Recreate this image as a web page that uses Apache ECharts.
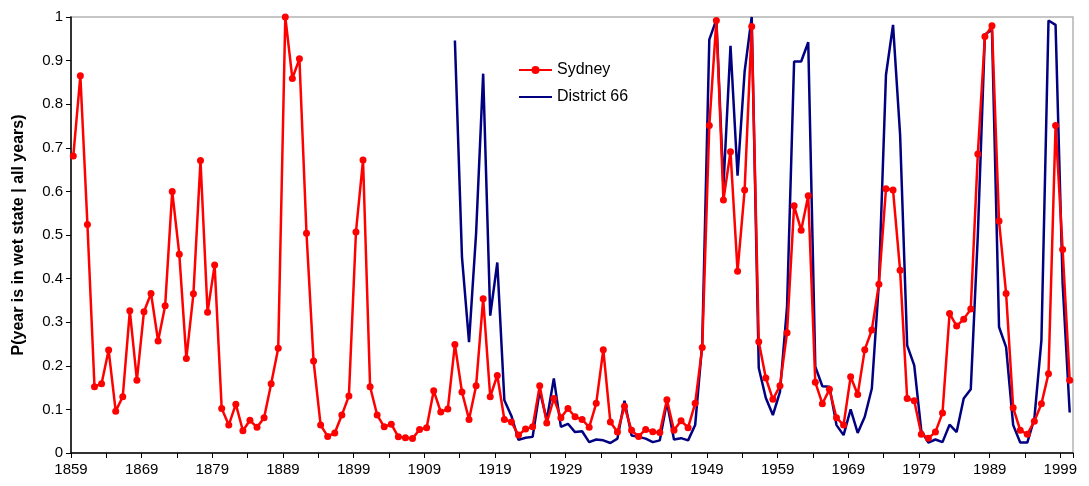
<!DOCTYPE html>
<html>
<head>
<meta charset="utf-8">
<style>
  html, body { margin: 0; padding: 0; background: #ffffff; }
  #chart { width: 1089px; height: 486px; }
</style>
<script src="https://cdn.jsdelivr.net/npm/echarts@6/dist/echarts.min.js"></script>
</head>
<body>
<div id="chart"></div>
<script>
// Probability that each year is in the wet state, Sydney 1859-2000 and District 66 1913-2000
const sydneyStartYear = 1859;
const sydneyValues = [
  0.681, 0.865, 0.524, 0.152, 0.159, 0.236, 0.096, 0.129, 0.326, 0.167,
  0.324, 0.366, 0.257, 0.338, 0.600, 0.456, 0.217, 0.365, 0.671, 0.323,
  0.431, 0.102, 0.064, 0.112, 0.051, 0.075, 0.059, 0.081, 0.159, 0.240,
  1.000, 0.859, 0.904, 0.504, 0.211, 0.064, 0.038, 0.046, 0.087, 0.131,
  0.507, 0.672, 0.152, 0.087, 0.060, 0.066, 0.037, 0.035, 0.033, 0.054,
  0.058, 0.143, 0.094, 0.101, 0.249, 0.140, 0.077, 0.154, 0.354, 0.129,
  0.178, 0.077, 0.071, 0.041, 0.055, 0.060, 0.154, 0.069, 0.125, 0.081,
  0.102, 0.083, 0.077, 0.059, 0.114, 0.237, 0.071, 0.048, 0.107, 0.052,
  0.038, 0.054, 0.049, 0.047, 0.122, 0.052, 0.074, 0.058, 0.114, 0.242,
  0.751, 0.992, 0.580, 0.691, 0.417, 0.603, 0.978, 0.255, 0.172, 0.123,
  0.154, 0.276, 0.567, 0.511, 0.590, 0.162, 0.113, 0.146, 0.081, 0.064,
  0.175, 0.134, 0.237, 0.282, 0.387, 0.606, 0.603, 0.419, 0.125, 0.120,
  0.043, 0.034, 0.048, 0.092, 0.320, 0.291, 0.307, 0.330, 0.686, 0.955,
  0.980, 0.532, 0.366, 0.104, 0.052, 0.043, 0.073, 0.113, 0.182, 0.751,
  0.467, 0.167
];

const districtStartYear = 1913;
const districtValues = [
  0.946, 0.450, 0.254, 0.504, 0.870, 0.315, 0.437, 0.121, 0.085, 0.030,
  0.035, 0.037, 0.143, 0.076, 0.171, 0.060, 0.067, 0.048, 0.050, 0.025,
  0.031, 0.029, 0.023, 0.033, 0.120, 0.040, 0.037, 0.033, 0.025, 0.029,
  0.117, 0.031, 0.034, 0.029, 0.064, 0.250, 0.948, 0.994, 0.611, 0.934,
  0.636, 0.875, 1.000, 0.195, 0.126, 0.087, 0.140, 0.335, 0.898, 0.898,
  0.942, 0.198, 0.153, 0.152, 0.064, 0.041, 0.100, 0.046, 0.083, 0.148,
  0.390, 0.867, 0.982, 0.730, 0.247, 0.201, 0.051, 0.024, 0.031, 0.025,
  0.065, 0.048, 0.125, 0.146, 0.500, 0.960, 0.971, 0.289, 0.243, 0.064,
  0.024, 0.024, 0.079, 0.259, 0.992, 0.982, 0.389, 0.093
];

const seriesNames = ['Sydney', 'District 66'];
const yAxisTitle = 'P(year is in wet state | all years)';

// Year axis: a small margin either side of the first and last year
const xMin = 1858.675;
const xMax = 2000.467;

const toPairs = (start, values) => values.map((v, i) => [start + i, v]);

const fontFamily = '"Liberation Sans", Arial, sans-serif';
const chart = echarts.init(document.getElementById('chart'), null, { renderer: 'canvas' });

chart.setOption({
  animation: false,
  backgroundColor: '#ffffff',
  textStyle: { fontFamily: fontFamily },
  grid: {
    left: 71, right: 16, top: 17, bottom: 33,
    show: true, borderColor: '#b4b4b4', borderWidth: 1.5,
    containLabel: false
  },
  legend: {
    orient: 'vertical',
    left: 513, top: 57,
    itemWidth: 33, itemHeight: 10, itemGap: 10,
    itemGap: 11,
    textStyle: { fontFamily: fontFamily, fontSize: 16, color: '#000000' },
    data: [
      { name: seriesNames[0] },
      // line-only key for the unmarked series
      { name: seriesNames[1], itemStyle: { opacity: 0 } }
    ]
  },
  xAxis: {
    type: 'value',
    min: xMin, max: xMax, interval: 5,
    axisLine: { show: true, lineStyle: { color: '#000000', width: 1.5 } },
    axisTick: { show: true, length: 5, lineStyle: { color: '#000000', width: 1 } },
    splitLine: { show: false },
    axisLabel: {
      fontSize: 15, color: '#000000', margin: 9, fontFamily: fontFamily,
      formatter: function (v) {
        const steps = Math.round(v - xMin);
        return steps % 10 === 0 ? String(Math.round(v)) : '';
      }
    }
  },
  yAxis: {
    type: 'value',
    min: 0, max: 1, interval: 0.1,
    name: yAxisTitle,
    nameLocation: 'middle',
    nameGap: 44,
    nameTextStyle: { fontSize: 16, fontWeight: 'bold', color: '#000000', fontFamily: fontFamily },
    axisLine: { show: true, lineStyle: { color: '#000000', width: 1.5 } },
    axisTick: { show: true, inside: false, length: 5, lineStyle: { color: '#000000', width: 1 } },
    splitLine: { show: false },
    axisLabel: { fontSize: 15, color: '#000000', margin: 8, fontFamily: fontFamily }
  },
  series: [
    {
      name: seriesNames[0],
      type: 'line',
      z: 3,
      data: toPairs(sydneyStartYear, sydneyValues),
      symbol: 'circle', symbolSize: 7, showAllSymbol: true,
      lineStyle: { color: '#ff0000', width: 2.5 },
      itemStyle: { color: '#ff0000', borderColor: '#ff0000', borderWidth: 0 }
    },
    {
      name: seriesNames[1],
      type: 'line',
      z: 2,
      data: toPairs(districtStartYear, districtValues),
      symbol: 'none',
      lineStyle: { color: '#000080', width: 2.5 },
      itemStyle: { color: '#000080' }
    }
  ]
});
</script>
</body>
</html>
